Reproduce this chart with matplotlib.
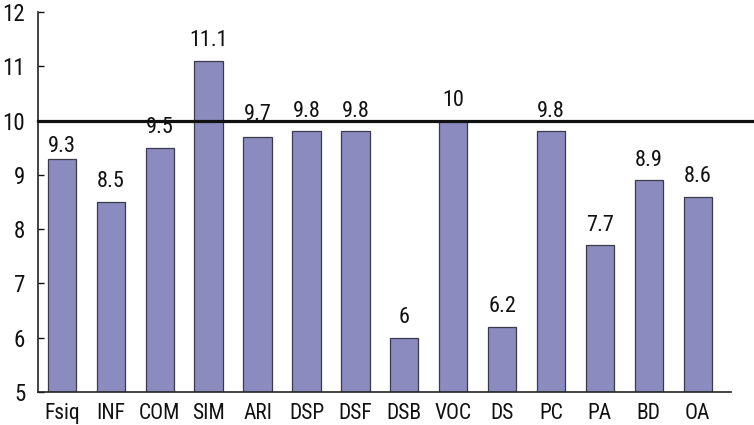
import matplotlib
matplotlib.use("Agg")
import matplotlib.pyplot as plt
import matplotlib.transforms as mtransforms

categories = ["Fsiq", "INF", "COM", "SIM", "ARI", "DSP", "DSF", "DSB", "VOC", "DS", "PC", "PA", "BD", "OA"]
values = [9.3, 8.5, 9.5, 11.1, 9.7, 9.8, 9.8, 6, 10, 6.2, 9.8, 7.7, 8.9, 8.6]
value_labels = ["9.3", "8.5", "9.5", "11.1", "9.7", "9.8", "9.8", "6", "10", "6.2", "9.8", "7.7", "8.9", "8.6"]
yticks = [5, 6, 7, 8, 9, 10, 11, 12]
ref_line = 10

plt.rcParams['font.family'] = ['Roboto Condensed', 'DejaVu Sans']

fig = plt.figure(figsize=(7.54, 4.25), dpi=100)
ax = fig.add_axes([0.051, 0.0776, 0.9185, 0.8942])

x = list(range(len(categories)))
ax.bar(x, values, width=0.58, color="#8b8bc0", edgecolor="#3a3a4a", linewidth=0.9, zorder=2)

# label offset (points) above each bar; some sit differently around the reference line
label_offset = {0: 5, 4: 12}
for i, (xi, v, lab) in enumerate(zip(x, values, value_labels)):
    ax.annotate(lab, (xi, v), xytext=(0, label_offset.get(i, 10.5)), textcoords="offset points",
                ha="center", va="baseline", fontsize=16, color="#111111", zorder=4)

trans = mtransforms.blended_transform_factory(ax.transAxes, ax.transData)
ax.plot([0, 1.04], [ref_line, ref_line], transform=trans, color="#111111",
        linewidth=2.3, clip_on=False, zorder=3)

ax.set_xlim(-0.48, 13.68)
ax.set_ylim(5, 12)
ax.set_yticks(yticks)
ax.set_xticks(x)
ax.set_xticklabels(categories)

for s in ["top", "right"]:
    ax.spines[s].set_visible(False)
for s in ["left", "bottom"]:
    ax.spines[s].set_linewidth(1.2)
    ax.spines[s].set_color("#222222")

ax.tick_params(axis="y", direction="in", length=4, width=1.0, pad=9.5, labelsize=16.5, colors="#111111")
ax.tick_params(axis="x", length=0, pad=8, labelsize=15.5, colors="#111111")

fig.savefig("out.png", dpi=100)
